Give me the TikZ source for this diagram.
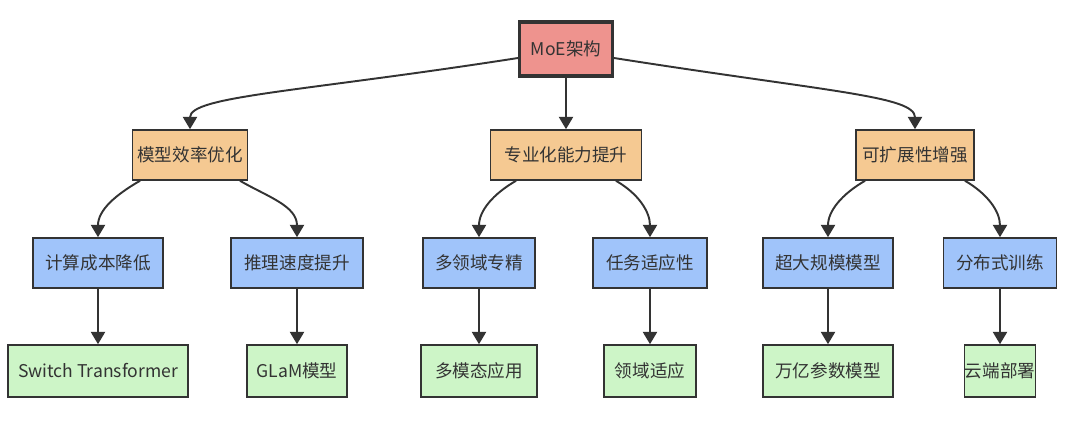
\documentclass[tikz,border=0pt]{standalone}
\usepackage{fontspec}
\setmainfont{Noto Sans CJK SC}
\usetikzlibrary{arrows.meta}
\definecolor{rootred}{HTML}{EE938E}
\definecolor{midorange}{HTML}{F5C992}
\definecolor{leafblue}{HTML}{A0C4FA}
\definecolor{endgreen}{HTML}{CDF5C7}
\definecolor{edgegray}{HTML}{333333}

\begin{document}
\begin{tikzpicture}[x=0.02cm,y=-0.02cm,
  box/.style={draw=edgegray, line width=0.9pt, inner sep=0pt, font=\fontsize{10}{12}\selectfont, text=edgegray},
  link/.style={draw=edgegray, line width=1.1pt, -{Triangle[length=7pt,width=8pt]}}]
\useasboundingbox (0,0) rectangle (1080,427);

% Root
\node[box, fill=rootred, line width=1.8pt, minimum width=1.86cm, minimum height=1.08cm] (root) at (566,49) {MoE架构};

% Second level
\node[box, fill=midorange, minimum width=2.3cm, minimum height=1.0cm] (eff) at (190,155) {模型效率优化};
\node[box, fill=midorange, minimum width=3.02cm, minimum height=1.0cm] (spec) at (566,155) {专业化能力提升};
\node[box, fill=midorange, minimum width=2.36cm, minimum height=1.0cm] (scal) at (915,155) {可扩展性增强};

% Third level
\node[box, fill=leafblue, minimum width=2.6cm, minimum height=1.0cm] (cost) at (98,263) {计算成本降低};
\node[box, fill=leafblue, minimum width=2.64cm, minimum height=1.0cm] (speed) at (297,263) {推理速度提升};
\node[box, fill=leafblue, minimum width=2.24cm, minimum height=1.0cm] (multi) at (479,263) {多领域专精};
\node[box, fill=leafblue, minimum width=2.28cm, minimum height=1.0cm] (task) at (650,263) {任务适应性};
\node[box, fill=leafblue, minimum width=2.6cm, minimum height=1.0cm] (huge) at (828,263) {超大规模模型};
\node[box, fill=leafblue, minimum width=2.26cm, minimum height=1.0cm] (dist) at (1000,263) {分布式训练};

% Fourth level
\node[box, fill=endgreen, minimum width=3.6cm, minimum height=1.04cm] (switch) at (98,371) {Switch Transformer};
\node[box, fill=endgreen, minimum width=2.0cm, minimum height=1.04cm] (glam) at (297,371) {GLaM模型};
\node[box, fill=endgreen, minimum width=2.32cm, minimum height=1.04cm] (mmod) at (479,371) {多模态应用};
\node[box, fill=endgreen, minimum width=1.84cm, minimum height=1.04cm] (dom) at (650,371) {领域适应};
\node[box, fill=endgreen, minimum width=2.6cm, minimum height=1.04cm] (tril) at (828,371) {万亿参数模型};
\node[box, fill=endgreen, minimum width=1.42cm, minimum height=1.04cm] (cloud) at (1000,371) {云端部署};

% Connectors
\draw[link] (root.west |- 0,58) .. controls (300,92) and (190,96) .. (eff.north);
\draw[link] (root.south) -- (spec.north);
\draw[link] (root.east |- 0,58) .. controls (830,92) and (915,96) .. (scal.north);
\foreach \p/\a/\b in {eff/cost/speed, spec/multi/task, scal/huge/dist} {
  \draw[link] ([xshift=-1.0cm]\p.south) to[out=210,in=90] (\a.north);
  \draw[link] ([xshift=1.0cm]\p.south) to[out=-30,in=90] (\b.north);
}
\foreach \a/\b in {cost/switch, speed/glam, multi/mmod, task/dom, huge/tril, dist/cloud}
  \draw[link] (\a) -- (\b);
\end{tikzpicture}
\end{document}
